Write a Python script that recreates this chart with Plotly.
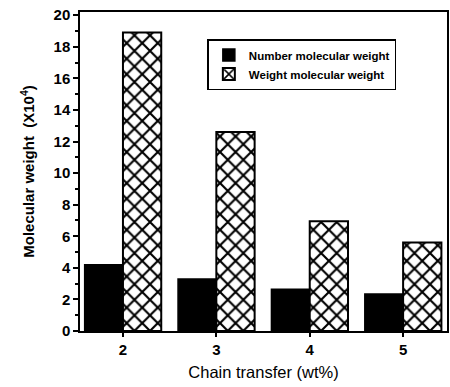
import plotly.graph_objects as go

# Chain transfer agent content (wt%)
chain_transfer = [2, 3, 4, 5]
# Molecular weights (x10^4)
number_mw = [4.2, 3.3, 2.65, 2.35]
weight_mw = [18.9, 12.6, 6.95, 5.6]

bar_w = 0.41
font_family = "Liberation Sans, Arial, sans-serif"

fig = go.Figure()
fig.add_trace(go.Bar(
    x=chain_transfer, y=number_mw, name="Number molecular weight",
    width=bar_w, offset=-bar_w,
    marker=dict(color="black", line=dict(color="black", width=1.5)),
))
fig.add_trace(go.Bar(
    x=chain_transfer, y=weight_mw, name="Weight molecular weight",
    width=bar_w, offset=0,
    marker=dict(
        color="white",
        line=dict(color="black", width=2),
        pattern=dict(shape="x", fgcolor="black", bgcolor="white",
                     size=11, solidity=0.35, fillmode="replace"),
    ),
))

fig.update_layout(
    width=450, height=387,
    margin=dict(l=80, r=1, t=12, b=56),
    paper_bgcolor="white", plot_bgcolor="white",
    font=dict(family=font_family, color="black"),
    barmode="overlay",
    showlegend=True,
    legend=dict(
        x=0.347, y=0.915, xanchor="left", yanchor="top",
        bordercolor="black", borderwidth=1.5, bgcolor="white",
        font=dict(size=11.5, family=font_family, weight="bold"),
        tracegroupgap=0, itemwidth=30,
    ),
    xaxis=dict(
        range=[1.54, 5.47],
        tickvals=chain_transfer,
        ticktext=[str(v) for v in chain_transfer],
        ticks="outside", ticklen=4, tickwidth=1.5, tickcolor="black",
        showline=True, linecolor="black", linewidth=1.5, mirror=True,
        showgrid=False, zeroline=False,
        tickfont=dict(size=15, weight="bold"),
        title=dict(text="Chain transfer (wt%)", font=dict(size=16.5), standoff=10),
    ),
    yaxis=dict(
        range=[0, 20.2],
        tickvals=list(range(0, 21, 2)),
        ticks="outside", ticklen=5, tickwidth=1.5, tickcolor="black",
        minor=dict(dtick=1, ticks="outside", ticklen=3, tickcolor="black"),
        showline=True, linecolor="black", linewidth=1.5, mirror=True,
        showgrid=False, zeroline=False,
        tickfont=dict(size=15, weight="bold"),
        title=dict(text="Molecular weight  (X10<sup>4</sup>)",
                   font=dict(size=15, weight="bold"), standoff=15),
    ),
)

fig.write_html("out.html")
